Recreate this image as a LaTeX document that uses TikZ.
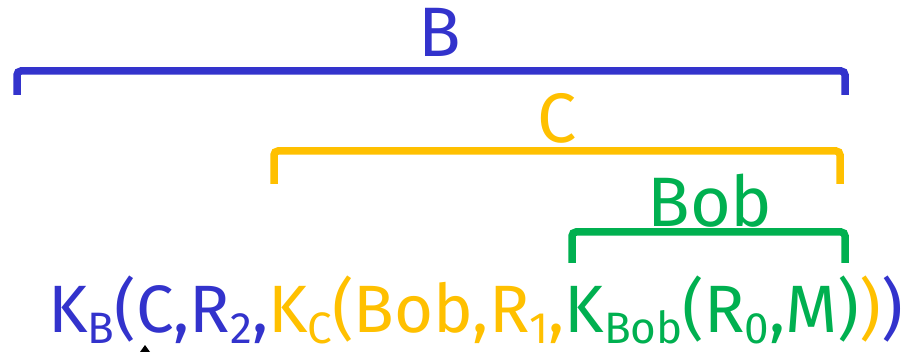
\documentclass[tikz,border=0pt]{standalone}
\usepackage{fontspec}
\setmainfont{Fira Sans}
\definecolor{keyB}{RGB}{51,51,204}
\definecolor{keyC}{RGB}{255,192,0}
\definecolor{keyBob}{RGB}{0,176,80}
\newcommand{\sub}[1]{\raisebox{-11pt}[\height][0pt]{\fontsize{44}{48}\selectfont #1}}
\tikzset{
    scopeline/.style={line width=7.5pt, rounded corners=4pt},
    scopelabel/.style={font=\fontsize{70}{80}\selectfont, inner sep=0pt},
}
\begin{document}
\begin{tikzpicture}[x=1pt, y=-1pt]
    \useasboundingbox (0,0) rectangle (917,352);

    % the nested message, read from the left
    \node[font=\fontsize{67}{76}\selectfont, inner sep=0pt, anchor=base west] (msg) at (48,332)
        {\textcolor{keyB}{K\sub{B}(C,R\sub{2},}%
         \textcolor{keyC}{K\sub{C}(Bob,R\sub{1},}%
         \textcolor{keyBob}{K\sub{Bob}(R\sub{0},M)}%
         \textcolor{keyC}{)}\textcolor{keyB}{)}};

    % brackets over the parts that each key covers
    \draw[scopeline, keyB] (17,95) -- (17,71) -- (845,71) -- (845,95);
    \draw[scopeline, keyC] (274,184) -- (274,151) -- (840,151) -- (840,184);
    \draw[scopeline, keyBob] (572,263) -- (572,232) -- (845,232) -- (845,263);

    \node[scopelabel, text=keyB] (lblB) at (440,32) {B};
    \node[scopelabel, text=keyC] (lblC) at (557,118) {C};
    \node[scopelabel, text=keyBob] (lblBob) at (710,201) {Bob};

    % pointer under C
    \fill (145,345) -- (140,352) -- (150,352) -- cycle;
\end{tikzpicture}
\end{document}
